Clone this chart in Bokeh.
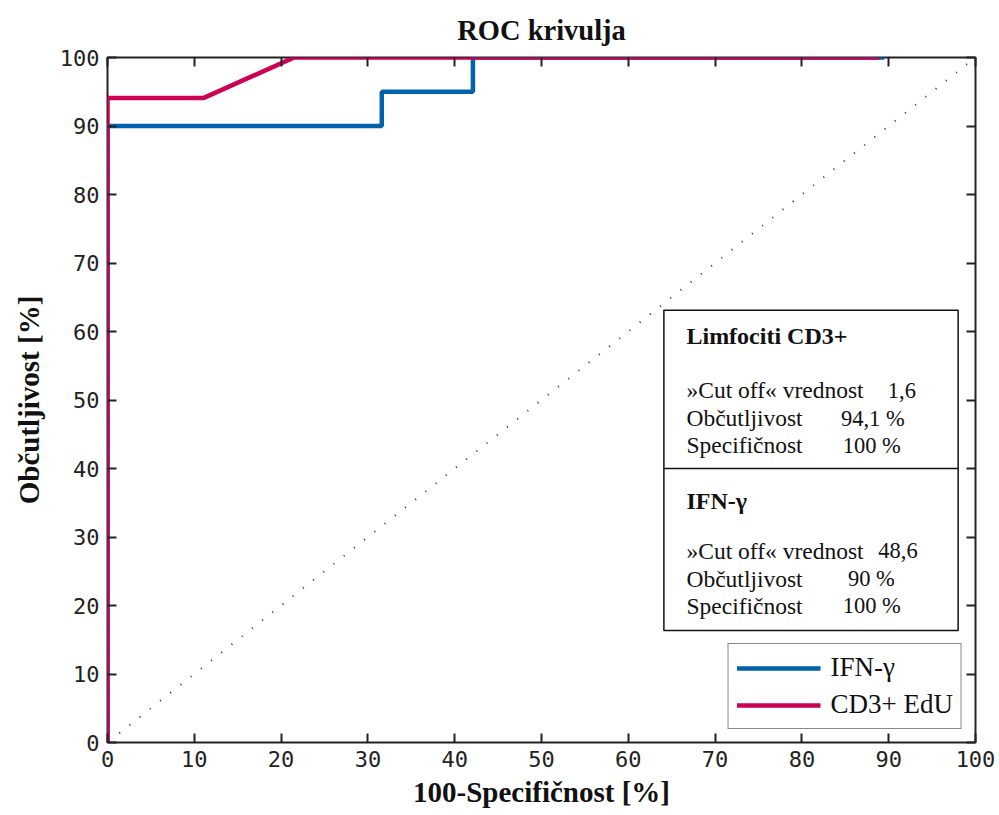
from bokeh.plotting import figure
from bokeh.models import Range1d, LinearAxis, Legend, LegendItem, FixedTicker
from bokeh.core.properties import value
from bokeh.embed import file_html
from bokeh.resources import INLINE

# ROC data (100-specificity %, sensitivity %)
ifn_fpr = [0, 0, 31.6, 31.6, 42.1, 42.1, 89.5]
ifn_tpr = [0, 90, 90, 95, 95, 100, 100]
cd3_fpr = [0, 0, 11.1, 21.5, 88.9]
cd3_tpr = [0, 94.1, 94.1, 100, 100]
ref_x = [0, 100]
ref_y = [0, 100]
ticks = [0, 10, 20, 30, 40, 50, 60, 70, 80, 90, 100]

series_names = ["IFN-\u03b3", "CD3+ EdU"]

box_cd3_title = "Limfociti CD3+"
box_ifn_title = "IFN-\u03b3"
box_labels = ["\u00bbCut off\u00ab vrednost", "Ob\u010dutljivost", "Specifi\u010dnost"]
cd3_values = ["1,6", "94,1 %", "100 %"]
ifn_values = ["48,6", "90 %", "100 %"]

BLUE = "#0062AD"
RED = "#CC0055"
SERIF = "Liberation Serif"
TICKFONT = "DejaVu Sans Mono"

p = figure(width=999, height=815, output_backend="svg", toolbar_location=None,
           x_range=Range1d(0, 100), y_range=Range1d(0, 100),
           min_border_left=107, min_border_right=24, min_border_top=57, min_border_bottom=73,
           title="ROC krivulja")
p.title.text_font = SERIF
p.title.text_font_style = "bold"
p.title.text_font_size = "28.5px"
p.title.align = "center"
p.title.text_color = "#111111"
p.title.standoff = 24

p.xgrid.visible = False
p.ygrid.visible = False
p.outline_line_color = "#222222"
p.outline_line_width = 2

for ax in (p.xaxis[0], p.yaxis[0]):
    ax.ticker = FixedTicker(ticks=ticks)
    ax.major_tick_in = 9
    ax.major_tick_out = 0
    ax.minor_tick_line_color = None
    ax.axis_line_color = None
    ax.major_tick_line_color = "#222222"
    ax.major_tick_line_width = 2
    ax.major_label_text_font = TICKFONT
    ax.major_label_text_font_size = "22px"
    ax.major_label_text_color = "#222222"
    ax.axis_label_text_font = SERIF
    ax.axis_label_text_font_style = "bold"
    ax.axis_label_text_font_size = "29px"
    ax.axis_label_text_color = "#111111"

p.xaxis[0].axis_label = "100-Specifi\u010dnost [%]"
p.yaxis[0].axis_label = "Ob\u010dutljivost [%]"
p.xaxis[0].major_label_standoff = 8
p.yaxis[0].major_label_standoff = 8
p.xaxis[0].axis_label_standoff = 6
p.yaxis[0].axis_label_standoff = 12

for side in ("above", "right"):
    ax = LinearAxis(ticker=FixedTicker(ticks=ticks))
    ax.major_tick_in = 9
    ax.major_tick_out = 0
    ax.minor_tick_line_color = None
    ax.axis_line_color = None
    ax.major_tick_line_color = "#222222"
    ax.major_tick_line_width = 2
    ax.major_label_text_font_size = "0px"
    ax.major_label_standoff = 0
    p.add_layout(ax, side)

# diagonal reference
p.line(ref_x, ref_y, line_color="#333333", line_width=2, line_dash="1 12",
       line_dash_offset=11)

r_ifn = p.line(ifn_fpr, ifn_tpr, line_color=BLUE, line_width=4.5)
r_cd3 = p.line(cd3_fpr, cd3_tpr, line_color=RED, line_width=4.5)

# info box
p.quad(left=[64.1], right=[98.0], bottom=[16.35], top=[63.1],
       fill_color="white", line_color="#111111", line_width=1.5)
p.segment(x0=[64.1], y0=[40.0], x1=[98.0], y1=[40.0], line_color="#111111", line_width=1.5)

p.text(x=[66.7], y=[59.4], text=[box_cd3_title], text_font=value(SERIF),
       text_font_style="bold", text_font_size="24px", text_baseline="middle", text_color="#111111")
p.text(x=[66.7], y=[35.3], text=[box_ifn_title], text_font=value(SERIF),
       text_font_style="bold", text_font_size="24px", text_baseline="middle", text_color="#111111")
p.text(x=[66.7] * 3, y=[51.4, 47.3, 43.4], text=box_labels, text_font=value(SERIF),
       text_font_size="23.5px", text_baseline="middle", text_color="#111111")
p.text(x=[66.7] * 3, y=[28.0, 23.9, 20.0], text=box_labels, text_font=value(SERIF),
       text_font_size="23.5px", text_baseline="middle", text_color="#111111")
p.text(x=[89.9, 84.5, 84.7], y=[51.4, 47.3, 43.4], text=cd3_values, text_font=value(SERIF),
       text_font_size="22.5px", text_baseline="middle", text_color="#111111")
p.text(x=[88.8, 85.3, 84.7], y=[28.0, 23.9, 20.0], text=ifn_values, text_font=value(SERIF),
       text_font_size="22.5px", text_baseline="middle", text_color="#111111")

legend = Legend(items=[LegendItem(label=series_names[0], renderers=[r_ifn]),
                       LegendItem(label=series_names[1], renderers=[r_cd3])],
                location="bottom_right")
legend.margin = 13
legend.padding = 8
legend.spacing = 6
legend.glyph_width = 84
legend.glyph_height = 20
legend.label_height = 20
legend.label_standoff = 10
legend.label_text_font = SERIF
legend.label_text_font_size = "27px"
legend.label_text_color = "#111111"
legend.border_line_color = "#111111"
legend.border_line_width = 1.5
legend.background_fill_alpha = 1
p.add_layout(legend, "center")

open("out.html", "w").write(file_html(p, INLINE))
